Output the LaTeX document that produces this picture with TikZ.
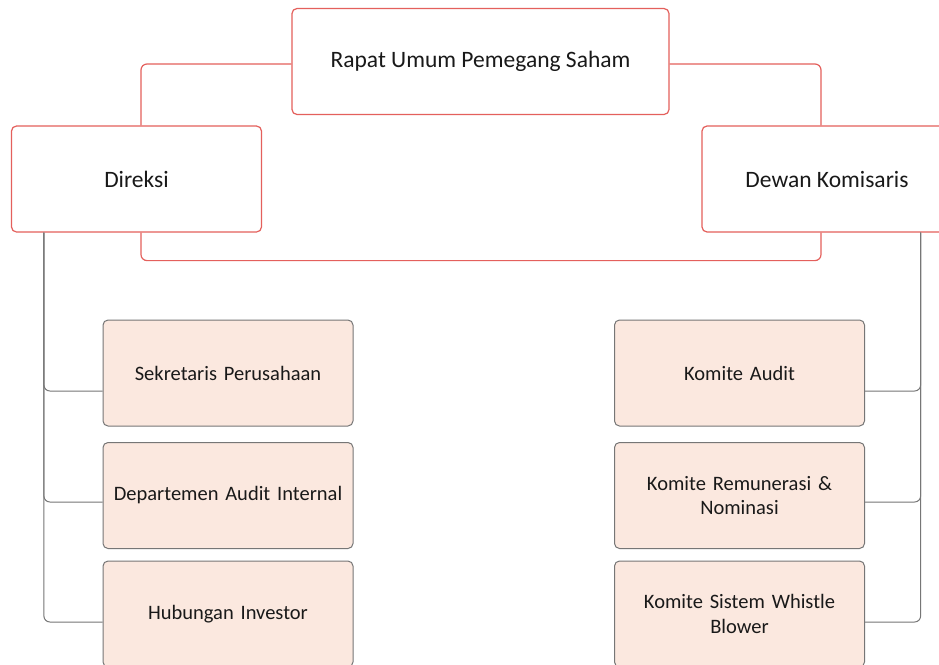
\documentclass[tikz,border=0pt]{standalone}
\usepackage{fontspec}
\setmainfont{Carlito}
\usetikzlibrary{calc}
\definecolor{boardred}{RGB}{228,96,92}
\definecolor{unitfill}{RGB}{251,232,223}
\definecolor{unitline}{RGB}{118,118,118}
\definecolor{inktext}{RGB}{25,25,25}
\tikzset{
  organ/.style={draw=boardred, fill=white, rounded corners=5pt, line width=1.2pt,
    minimum height=106pt, text=inktext, font=\fontsize{23.5}{28}\selectfont, align=center, inner sep=0pt},
  unit/.style={draw=unitline, fill=unitfill, rounded corners=5pt, line width=1pt,
    minimum width=250pt, minimum height=106pt, text=inktext, font=\fontsize{20.5}{24.5}\selectfont,
    align=center, inner sep=0pt, text width=246pt},
  redlink/.style={draw=boardred, line width=1.2pt, rounded corners=6pt},
  graylink/.style={draw=unitline, line width=1pt, rounded corners=6pt}
}
\newcommand{\lowered}[1]{\raisebox{-3pt}{#1}}
\begin{document}
\begin{tikzpicture}[x=1pt,y=-1pt]
\useasboundingbox (0,0) rectangle (939,664);
\clip (0,0) rectangle (939,664);
\fill[white] (0,0) rectangle (939,664);

% governing bodies
\node[organ, minimum width=377pt] (rups) at (480.5,61.5) {\lowered{Rapat Umum Pemegang Saham}};
\node[organ, minimum width=250pt] (dir) at (136.5,179) {\lowered{Direksi}};
\node[organ, minimum width=250pt] (dew) at (827,179) {\lowered{Dewan Komisaris}};

% units under the Direksi
\node[unit] (sek) at (228,373) {Sekretaris Perusahaan};
\node[unit] (dep) at (228,495.5) {Departemen Audit Internal};
\node[unit] (hub) at (228,614) {Hubungan Investor};

% committees under the Dewan Komisaris
\node[unit] (ka) at (739.5,373) {Komite Audit};
\node[unit] (kr) at (739.5,495.5) {Komite Remunerasi \&\\Nominasi};
\node[unit] (ks) at (739.5,614) {Komite Sistem Whistle\\Blower};

% board-level links
\draw[redlink] ([yshift=-2.5pt]rups.west) -| ([xshift=4.5pt]dir.north);
\draw[redlink] ([yshift=-2.5pt]rups.east) -| ([xshift=-6pt]dew.north);
\draw[redlink] ([xshift=4.5pt]dir.south) -- ++(0,28) -| ([xshift=-6pt]dew.south);

% Direksi to its units
\coordinate (dtap) at ($(dir.south west)+(33,0)$);
\draw[graylink] (dtap) |- ([yshift=-18pt]sek.west);
\draw[graylink] (dtap) |- ([yshift=-6.5pt]dep.west);
\draw[graylink] (dtap) |- ([yshift=-8pt]hub.west);

% Dewan Komisaris to its committees
\coordinate (ctap) at ($(dew.south east)+(-32,0)$);
\draw[graylink] (ctap) |- ([yshift=-18pt]ka.east);
\draw[graylink] (ctap) |- ([yshift=-6.5pt]kr.east);
\draw[graylink] (ctap) |- ([yshift=-8pt]ks.east);
\end{tikzpicture}
\end{document}
